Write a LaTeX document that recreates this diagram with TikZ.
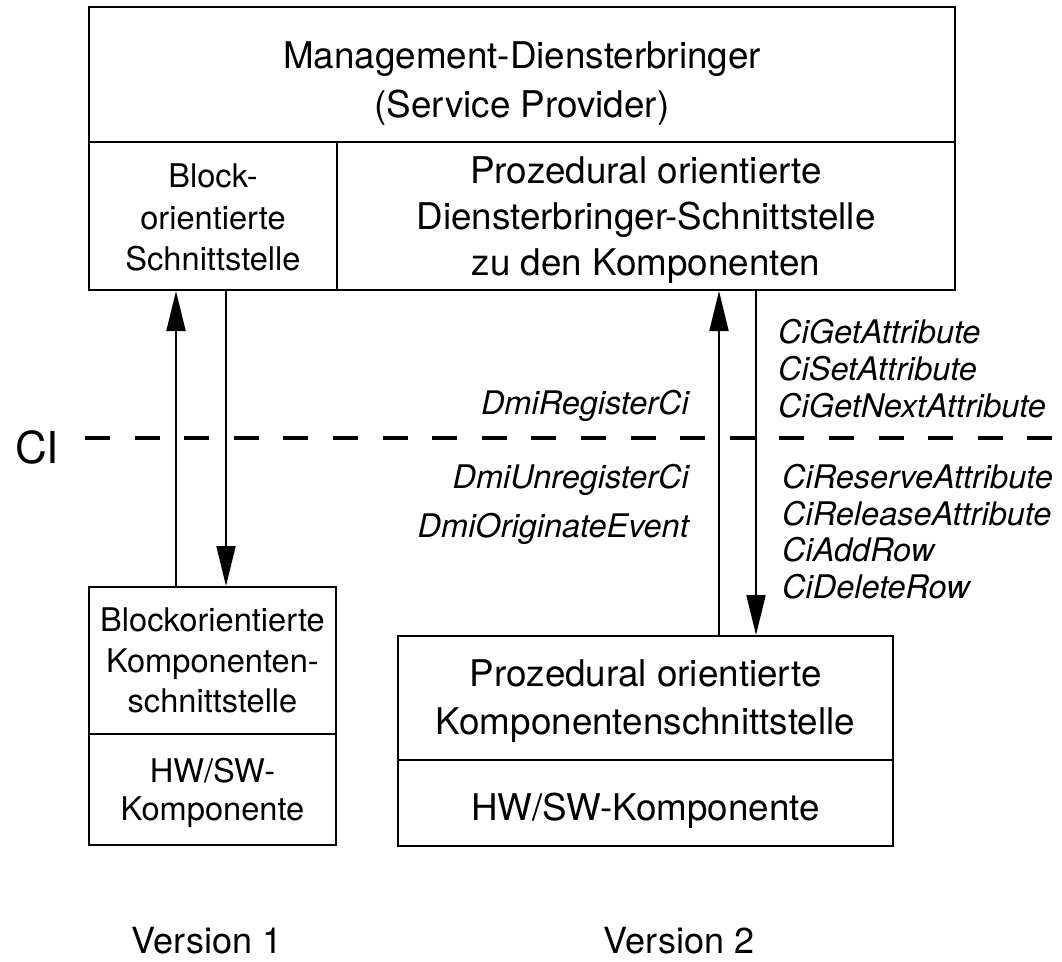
\documentclass[tikz,border=0pt]{standalone}
\usepackage{fontspec}
\setmainfont{TeX Gyre Heros}
\usetikzlibrary{arrows.meta}
\begin{document}
\begin{tikzpicture}[x=1pt,y=-1pt,
  box/.style={draw, line width=2pt, rectangle, inner sep=0pt},
  txt/.style={inner sep=0pt, align=center},
  bigfont/.style={font=\fontsize{36.8}{#1}\selectfont},
  smallfont/.style={font=\fontsize{32.6}{#1}\selectfont},
  lab/.style={inner sep=0pt, font=\fontsize{32.5}{37}\selectfont\itshape},
  arr/.style={line width=2pt, -{Triangle[length=40pt,width=19pt]}},
  ciline/.style={line width=4pt, dash pattern=on 25pt off 24.6pt}
]
\useasboundingbox (0,0) rectangle (1062,961);
% boxes
\node[box, minimum width=866pt, minimum height=135pt] (mgmt) at (522,74.5) {};
\node[box, minimum width=248pt, minimum height=148pt] (blk) at (213,216) {};
\node[box, minimum width=618pt, minimum height=148pt] (proc) at (646,216) {};
\node[box, minimum width=247pt, minimum height=147pt] (lcu) at (212.5,660.5) {};
\node[box, minimum width=247pt, minimum height=111pt] (lcl) at (212.5,789.5) {};
\node[box, minimum width=495pt, minimum height=124pt] (rcu) at (645.5,698) {};
\node[box, minimum width=495pt, minimum height=86pt] (rcl) at (645.5,803) {};
% box texts
\node[txt, bigfont=49] (tmgmt) at (522,83.2) {Management-Diensterbringer\\(Service Provider)};
\node[txt, smallfont=41.5] (tblk) at (213,217.8) {Block-\\orientierte\\Schnittstelle};
\node[txt, bigfont=46] (tproc) at (646,219.7) {Prozedural orientierte\\Diensterbringer-Schnittstelle\\zu den Komponenten};
\node[txt, smallfont=40.5] (tlcu) at (212.5,660.7) {Blockorientierte\\Komponenten-\\schnittstelle};
\node[txt, smallfont=37.3] (tlcl) at (212.5,792.9) {HW/SW-\\Komponente};
\node[txt, bigfont=48] (trcu) at (645.5,700.6) {Prozedural orientierte\\Komponentenschnittstelle};
\node[txt, bigfont=48, anchor=base] (trcl) at (645.5,820) {HW/SW-Komponente};
% CI line
\coordinate (ciL) at (85,438);
\coordinate (ciR) at (1062,438);
\draw[ciline] (ciL) -- (ciR);
\node[inner sep=0pt, anchor=base west, font=\fontsize{44}{50}\selectfont] (ci) at (15,463) {CI};
% arrows
\draw[arr] ([xshift=-36.5pt]lcu.north) -- ([xshift=-37pt]blk.south);
\draw[arr] ([xshift=13pt]blk.south) -- ([xshift=13.5pt]lcu.north);
\draw[arr] ([xshift=73.5pt]rcu.north) -- ([xshift=73pt]proc.south);
\draw[arr] ([xshift=110pt]proc.south) -- ([xshift=110.5pt]rcu.north);
% labels
\node[lab, anchor=base east] (dreg) at (689,414) {DmiRegisterCi};
\node[lab, anchor=base east] (dunreg) at (689,488) {DmiUnregisterCi};
\node[lab, anchor=base east] (dorig) at (689,537) {DmiOriginateEvent};
\node[lab, anchor=base west] (cget) at (778,343) {CiGetAttribute};
\node[lab, anchor=base west] (cset) at (778,380) {CiSetAttribute};
\node[lab, anchor=base west] (cnext) at (778,417) {CiGetNextAttribute};
\node[lab, anchor=base west] (cres) at (782,488) {CiReserveAttribute};
\node[lab, anchor=base west] (crel) at (782,525) {CiReleaseAttribute};
\node[lab, anchor=base west] (cadd) at (782,561) {CiAddRow};
\node[lab, anchor=base west] (cdel) at (782,598) {CiDeleteRow};
% version labels
\node[inner sep=0pt, anchor=base, font=\fontsize{36}{40}\selectfont] (v1) at (207,953) {Version 1};
\node[inner sep=0pt, anchor=base, font=\fontsize{36}{40}\selectfont] (v2) at (679,953) {Version 2};
\end{tikzpicture}
\end{document}
